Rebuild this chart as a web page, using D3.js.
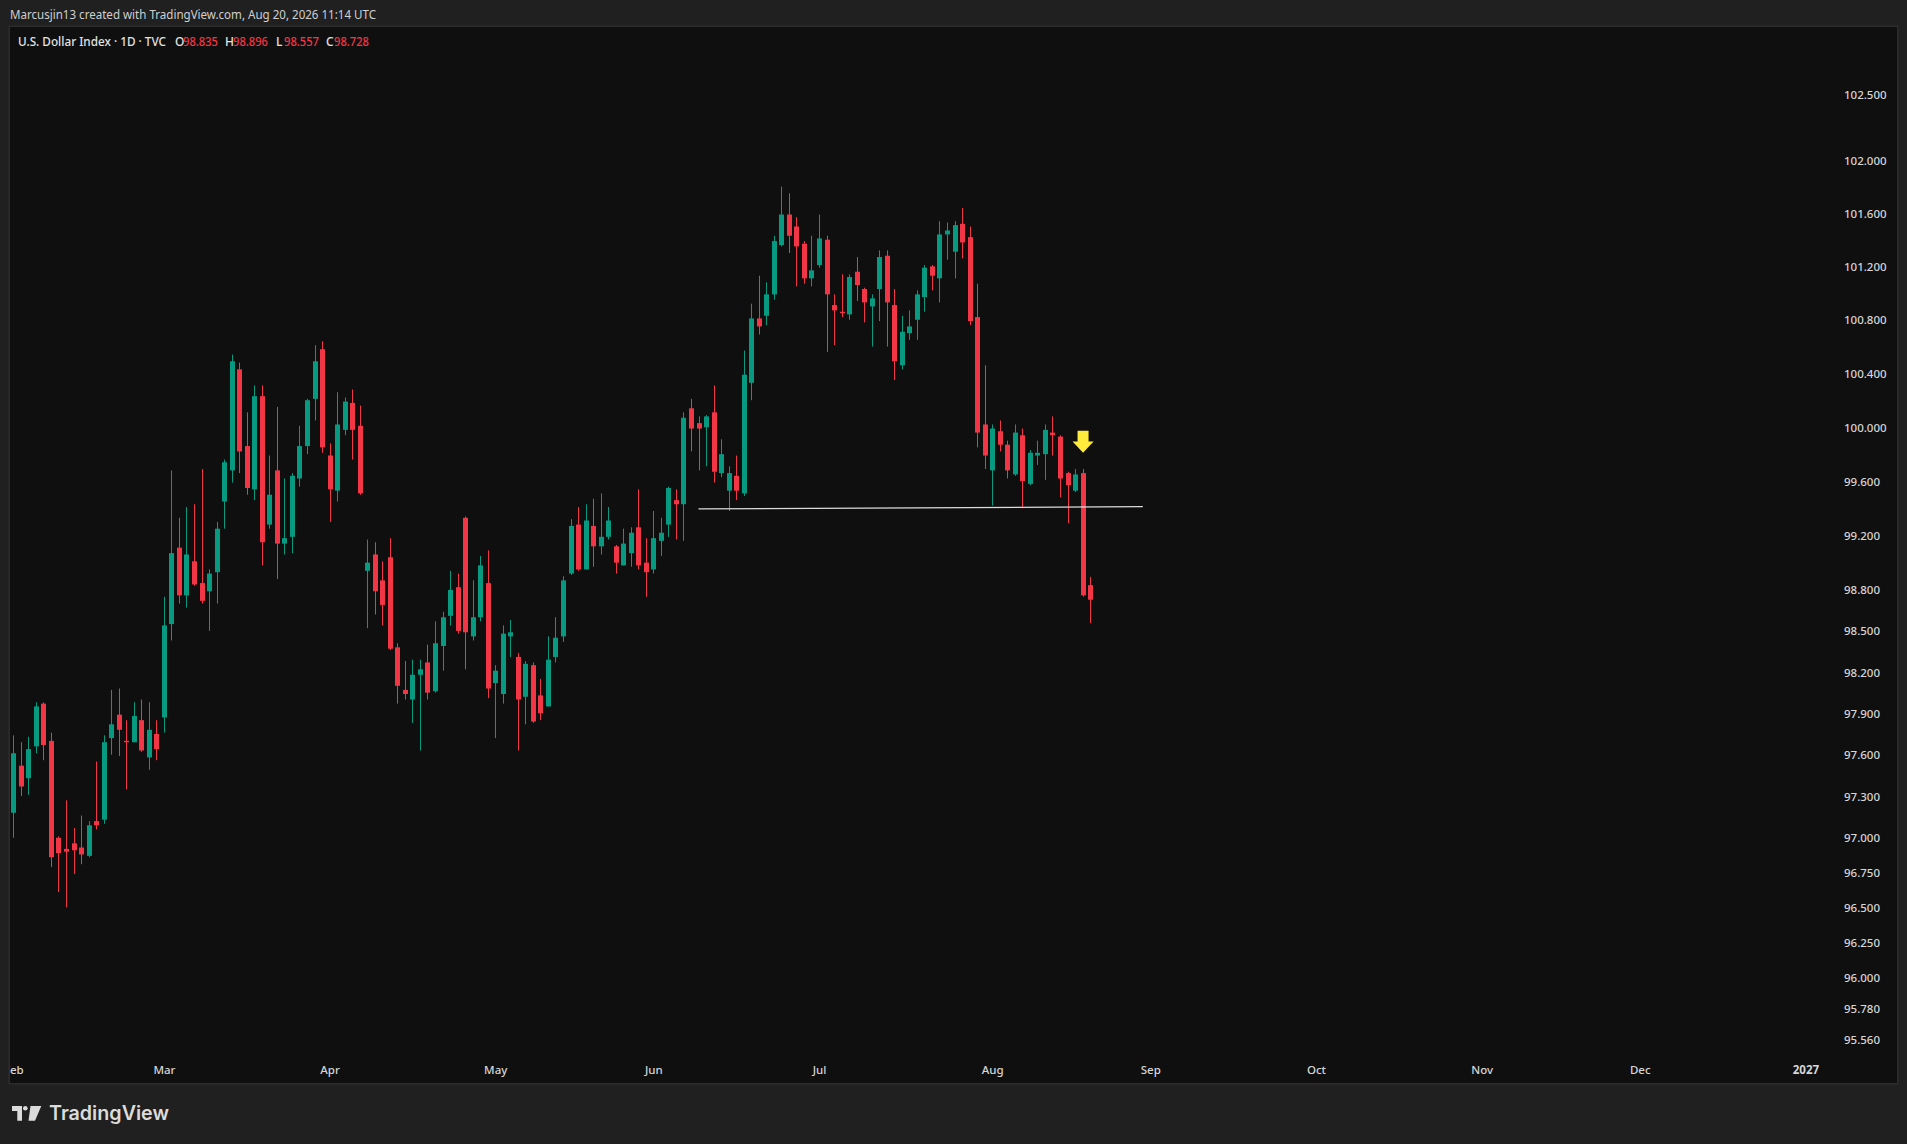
<!DOCTYPE html>
<html>
<head>
<meta charset="utf-8">
<script src="https://cdn.jsdelivr.net/npm/d3@7"></script>
<style>
  html, body { margin: 0; padding: 0; background: #202020; }
  svg { display: block; font-family: "Noto Sans", Roboto, sans-serif; }
</style>
</head>
<body>
<svg id="chart" width="1907" height="1144"></svg>
<script>
// daily bars, Feb 2 2026 .. Aug 20 2026 (one per weekday)
const opens = [
    97.18, 97.52, 97.43, 97.66, 97.97, 97.70, 97.00, 96.92, 96.96, 96.93,
    96.87, 97.12, 97.13, 97.72, 97.89, 97.70, 97.69, 97.85, 97.58, 97.75,
    97.87, 98.55, 99.11, 98.76, 99.01, 98.85, 98.79, 98.93, 99.45, 99.68,
    100.43, 99.86, 99.54, 100.23, 99.28, 99.68, 99.14, 99.19, 99.62, 99.86,
    100.21, 100.58, 99.79, 99.53, 99.98, 100.18, 100.01, 98.94, 99.06, 98.87,
    99.04, 98.38, 98.07, 98.00, 98.18, 98.27, 98.06, 98.39, 98.61, 98.82,
    99.33, 98.46, 98.60, 98.85, 98.12, 98.04, 98.46, 98.31, 98.02, 98.25,
    98.03, 97.95, 98.31, 98.46, 98.92, 99.28, 98.95, 99.27, 99.12, 99.19,
    99.12, 98.98, 99.07, 99.26, 99.00, 98.95, 99.16, 99.28, 99.46, 99.43,
    100.14, 100.03, 100.00, 100.11, 99.66, 99.53, 99.64, 99.51, 100.33, 100.81,
    100.83, 100.99, 101.36, 101.59, 101.50, 101.37, 101.11, 101.21, 101.40, 100.91,
    100.86, 100.84, 101.16, 101.03, 100.90, 101.03, 101.28, 100.91, 100.46, 100.70,
    100.80, 100.97, 101.20, 101.11, 101.44, 101.31, 101.52, 101.42, 100.82, 100.02,
    99.68, 99.97, 99.87, 99.65, 99.94, 99.58, 99.79, 99.80, 99.96, 99.93,
    99.66, 99.53, 99.66, 98.835
];
const highs = [
    97.74, 97.69, 97.73, 97.98, 97.98, 97.76, 97.01, 97.27, 97.07, 97.16,
    97.12, 97.55, 97.74, 98.07, 98.08, 97.85, 97.98, 98.00, 97.98, 97.85,
    98.75, 99.68, 99.33, 99.41, 99.43, 99.69, 98.95, 99.30, 99.76, 100.54,
    100.48, 100.11, 100.31, 100.31, 99.79, 100.15, 99.62, 99.66, 100.01, 100.21,
    100.61, 100.64, 99.88, 100.26, 100.22, 100.28, 100.16, 99.17, 99.15, 99.01,
    99.18, 98.41, 98.28, 98.29, 98.29, 98.40, 98.57, 98.64, 98.94, 98.92,
    99.34, 98.87, 99.05, 99.09, 98.25, 98.54, 98.58, 98.34, 98.28, 98.27,
    98.15, 98.46, 98.60, 98.90, 99.32, 99.41, 99.43, 99.47, 99.51, 99.41,
    99.13, 99.25, 99.26, 99.54, 99.18, 99.38, 99.33, 99.56, 99.54, 100.11,
    100.21, 100.08, 100.09, 100.31, 99.91, 99.71, 99.79, 100.57, 100.92, 101.13,
    101.08, 101.43, 101.80, 101.75, 101.57, 101.39, 101.43, 101.59, 101.43, 100.99,
    101.14, 101.14, 101.27, 101.04, 100.99, 101.32, 101.32, 101.03, 100.83, 100.87,
    101.02, 101.21, 101.21, 101.54, 101.53, 101.54, 101.64, 101.50, 101.07, 100.46,
    100.02, 100.05, 99.90, 100.02, 99.99, 99.83, 99.90, 100.02, 100.08, 99.94,
    99.67, 99.69, 99.69, 98.896
];
const lows = [
    97.00, 97.30, 97.31, 97.61, 97.56, 96.79, 96.61, 96.50, 96.74, 96.81,
    96.86, 97.06, 97.10, 97.60, 97.59, 97.35, 97.69, 97.62, 97.49, 97.56,
    97.76, 98.43, 98.70, 98.67, 98.83, 98.70, 98.50, 98.70, 99.25, 99.59,
    99.66, 99.50, 99.46, 98.98, 99.25, 98.88, 99.06, 99.07, 99.56, 99.80,
    100.05, 99.81, 99.30, 99.45, 99.94, 99.76, 99.50, 98.52, 98.62, 98.54,
    98.36, 97.97, 98.00, 97.83, 97.63, 98.00, 98.05, 98.21, 98.54, 98.48,
    98.22, 98.43, 98.57, 98.01, 97.72, 97.97, 98.31, 97.63, 97.82, 97.83,
    97.85, 97.95, 98.27, 98.42, 98.91, 98.94, 98.95, 98.97, 99.06, 99.17,
    98.92, 98.98, 98.97, 98.95, 98.75, 98.92, 99.05, 99.19, 99.17, 99.16,
    99.82, 99.68, 99.71, 99.59, 99.63, 99.38, 99.46, 99.49, 100.20, 100.69,
    100.76, 100.95, 101.35, 101.30, 101.05, 101.07, 101.05, 101.19, 100.56, 100.61,
    100.82, 100.80, 100.94, 100.78, 100.60, 100.79, 100.60, 100.35, 100.43, 100.65,
    100.65, 100.86, 101.02, 100.93, 101.25, 101.11, 101.26, 100.76, 99.85, 99.69,
    99.42, 99.82, 99.62, 99.64, 99.40, 99.57, 99.72, 99.61, 99.79, 99.48,
    99.29, 99.52, 98.75, 98.557
];
const closes = [
    97.61, 97.37, 97.64, 97.95, 97.67, 96.86, 96.89, 96.90, 96.91, 96.88,
    97.09, 97.09, 97.69, 97.82, 97.78, 97.69, 97.88, 97.63, 97.78, 97.64,
    98.54, 99.07, 98.76, 99.06, 98.84, 98.72, 98.92, 99.25, 99.74, 100.49,
    99.82, 99.55, 100.23, 99.15, 99.50, 99.14, 99.18, 99.64, 99.86, 100.20,
    100.49, 99.85, 99.54, 100.02, 100.19, 99.98, 99.51, 99.00, 98.79, 98.69,
    98.37, 98.10, 98.04, 98.18, 98.22, 98.05, 98.41, 98.60, 98.80, 98.50,
    98.49, 98.60, 98.98, 98.08, 98.21, 98.48, 98.49, 98.00, 98.26, 97.84,
    97.90, 98.29, 98.45, 98.87, 99.27, 98.95, 99.31, 99.12, 99.19, 99.31,
    99.00, 99.14, 99.22, 98.98, 98.93, 99.18, 99.22, 99.55, 99.43, 100.07,
    99.99, 99.99, 100.08, 99.67, 99.80, 99.66, 99.53, 100.39, 100.81, 100.75,
    100.99, 101.39, 101.59, 101.43, 101.35, 101.11, 101.17, 101.41, 100.99, 100.87,
    100.85, 101.12, 101.06, 100.93, 100.96, 101.27, 100.93, 100.49, 100.71, 100.75,
    100.99, 101.19, 101.13, 101.44, 101.47, 101.51, 101.38, 100.79, 99.96, 99.79,
    99.99, 99.87, 99.68, 99.96, 99.60, 99.81, 99.81, 99.98, 99.94, 99.62,
    99.57, 99.65, 98.76, 98.728
];

const firstDay = '2026-02-02';
const lastAxisDay = '2027-01-29';
const holidays = ['2026-12-25'];

const monthTickDates = ['2026-02-02', '2026-03-02', '2026-04-01', '2026-05-01', '2026-06-01', '2026-07-01',
    '2026-08-03', '2026-09-01', '2026-10-01', '2026-11-02', '2026-12-01', '2027-01-01'];
const monthLabels = ['Feb', 'Mar', 'Apr', 'May', 'Jun', 'Jul', 'Aug', 'Sep', 'Oct', 'Nov', 'Dec', '2027'];

const priceTicks = [102.5, 102.0, 101.6, 101.2, 100.8, 100.4, 100.0, 99.6, 99.2, 98.8, 98.5, 98.2,
    97.9, 97.6, 97.3, 97.0, 96.75, 96.5, 96.25, 96.0, 95.78, 95.56];

const trendLine = [{ date: '2026-06-09', price: 99.395 }, { date: '2026-08-31', price: 99.412 }];
const arrowMark = { date: '2026-08-19', price: 99.81 };

const headerText = 'Marcusjin13 created with TradingView.com, Aug 20, 2026 11:14 UTC';
const symbolText = 'U.S. Dollar Index \u00b7 1D \u00b7 TVC';

// layout
const W = 1907;
const H = 1144;
const pane = { left: 10, top: 27, right: 1897, bottom: 1083 };
const firstBarX = 13.3;
const barStep = 7.53;
const upColor = '#089981';
const downColor = '#f23645';
const textColor = '#d6d6d6';

const parse = d3.utcParse('%Y-%m-%d');
const fmt = d3.utcFormat('%Y-%m-%d');
const days = d3.utcDay.range(parse(firstDay), d3.utcDay.offset(parse(lastAxisDay), 1))
    .filter((d) => d.getUTCDay() % 6 !== 0 && !holidays.includes(fmt(d)));
const dayIndex = new Map(days.map((d, i) => [fmt(d), i]));

const x = d3.scaleLinear()
    .domain([0, days.length - 1])
    .range([firstBarX, firstBarX + (days.length - 1) * barStep]);

// log price scale, as the chart is set to log
const y = d3.scaleLog()
    .domain([95.56, 102.5])
    .range([1039.4, 94.3]);

const bars = opens.map((o, i) => ({
    i, o, h: highs[i], l: lows[i], c: closes[i],
}));

const svg = d3.select('#chart');

svg.append('rect')
    .attr('width', W)
    .attr('height', H)
    .attr('fill', '#202020');

svg.append('defs').append('clipPath')
    .attr('id', 'paneClip')
    .append('rect')
    .attr('x', pane.left)
    .attr('y', pane.top)
    .attr('width', pane.right - pane.left)
    .attr('height', pane.bottom - pane.top);

svg.append('rect')
    .attr('x', pane.left - 0.75)
    .attr('y', pane.top - 0.75)
    .attr('width', pane.right - pane.left + 1.5)
    .attr('height', pane.bottom - pane.top + 1.5)
    .attr('fill', '#0f0f0f')
    .attr('stroke', '#2c2c2c')
    .attr('stroke-width', 1.5);

// header line
svg.append('text')
    .attr('x', 10)
    .attr('y', 15)
    .attr('dy', '0.35em')
    .attr('font-size', 12)
    .attr('fill', '#cfcfcf')
    .attr('textLength', 366)
    .attr('lengthAdjust', 'spacingAndGlyphs')
    .text(headerText);

const plot = svg.append('g').attr('clip-path', 'url(#paneClip)');

// candles
const candle = plot.append('g')
    .attr('class', 'candles')
    .selectAll('g')
    .data(bars)
    .join('g')
    .attr('fill', (d) => (d.c >= d.o ? upColor : downColor))
    .attr('stroke', (d) => (d.c >= d.o ? upColor : downColor));

candle.append('line')
    .attr('x1', (d) => Math.round(x(d.i)) + 0.5)
    .attr('x2', (d) => Math.round(x(d.i)) + 0.5)
    .attr('y1', (d) => y(d.h))
    .attr('y2', (d) => y(d.l))
    .attr('stroke-width', 1);

candle.append('rect')
    .attr('x', (d) => Math.round(x(d.i)) - 2)
    .attr('width', 5)
    .attr('y', (d) => y(Math.max(d.o, d.c)))
    .attr('height', (d) => Math.max(1, Math.abs(y(d.o) - y(d.c))))
    .attr('stroke', 'none');

// support line
plot.append('line')
    .attr('x1', x(dayIndex.get(trendLine[0].date)))
    .attr('y1', y(trendLine[0].price))
    .attr('x2', x(dayIndex.get(trendLine[1].date)))
    .attr('y2', y(trendLine[1].price))
    .attr('stroke', '#dcdcdc')
    .attr('stroke-width', 1.3);

// yellow arrow marker
const ax = x(dayIndex.get(arrowMark.date)) + 0.5;
const ay = y(arrowMark.price);
plot.append('path')
    .attr('d', `M${ax},${ay} L${ax - 10.5},${ay - 11.3} L${ax - 5.5},${ay - 11.3} L${ax - 5.5},${ay - 22}
        L${ax + 5.5},${ay - 22} L${ax + 5.5},${ay - 11.3} L${ax + 10.5},${ay - 11.3} Z`)
    .attr('fill', '#ffeb3b');

// price axis
const yAxis = d3.axisRight(y)
    .tickValues(priceTicks)
    .tickSize(0)
    .tickPadding(0)
    .tickFormat(d3.format('.3f'));

const yLabel = svg.append('g')
    .attr('class', 'axis yAxis')
    .attr('transform', 'translate(1844,0)')
    .call(yAxis);
yLabel.selectAll('.domain').remove();
yLabel.selectAll('text')
    .attr('x', 0)
    .attr('dy', '0.35em')
    .attr('font-size', 11.5)
    .attr('font-family', '"Noto Sans", sans-serif')
    .attr('font-weight', 500)
    .attr('fill', textColor);

// time axis
const xAxis = d3.axisBottom(x)
    .tickValues(monthTickDates.map((d) => dayIndex.get(d)))
    .tickSize(0)
    .tickPadding(0)
    .tickFormat((d, i) => monthLabels[i]);

const xLabel = plot.append('g')
    .attr('class', 'axis xAxis')
    .attr('transform', 'translate(0,1070)')
    .call(xAxis);
xLabel.selectAll('.domain').remove();
xLabel.selectAll('text')
    .attr('y', 0)
    .attr('dy', '0.35em')
    .attr('font-size', 11.5)
    .attr('font-family', '"Noto Sans", sans-serif')
    .attr('font-weight', (d, i) => (monthLabels[i] === '2027' ? 700 : 500))
    .attr('fill', textColor);

// legend
const last = bars[bars.length - 1];
const f3 = d3.format('.3f');
const legend = svg.append('g')
    .attr('font-size', 12)
    .attr('font-weight', 500);

legend.append('text')
    .attr('x', 18)
    .attr('y', 42)
    .attr('dy', '0.35em')
    .attr('fill', '#e2e2e2')
    .attr('textLength', 148)
    .attr('lengthAdjust', 'spacingAndGlyphs')
    .text(symbolText);

const ohlc = [
    { k: 'O', v: last.o, x: 175 },
    { k: 'H', v: last.h, x: 225 },
    { k: 'L', v: last.l, x: 276 },
    { k: 'C', v: last.c, x: 326 },
];
ohlc.forEach((d) => {
    legend.append('text')
        .attr('x', d.x)
        .attr('y', 42)
        .attr('dy', '0.35em')
        .attr('fill', '#e2e2e2')
        .text(d.k);
    legend.append('text')
        .attr('x', d.x + 8)
        .attr('y', 42)
        .attr('dy', '0.35em')
        .attr('fill', downColor)
        .attr('textLength', 35)
        .attr('lengthAdjust', 'spacingAndGlyphs')
        .text(f3(d.v));
});

// footer logo
const logo = svg.append('g').attr('fill', '#dbdbdb');
logo.append('path')
    .attr('d', 'M12,1106 H22 V1120.7 H17.3 V1111 H12 Z');
logo.append('circle')
    .attr('cx', 25.3)
    .attr('cy', 1108.3)
    .attr('r', 2.3);
logo.append('path')
    .attr('d', 'M30.5,1106 H41.3 L35,1120.7 H28.5 Z');
logo.append('text')
    .attr('x', 49)
    .attr('y', 1120.3)
    .attr('font-family', 'Inter, "Noto Sans", sans-serif')
    .attr('font-size', 19.5)
    .attr('font-weight', 600)
    .attr('textLength', 120)
    .attr('lengthAdjust', 'spacingAndGlyphs')
    .text('TradingView');
</script>
</body>
</html>
